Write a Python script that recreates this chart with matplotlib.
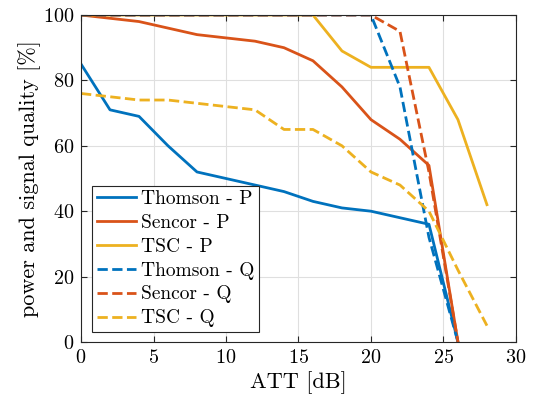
import matplotlib.pyplot as plt

plt.rcParams['font.family'] = ['cmr10', 'DejaVu Serif']
plt.rcParams['mathtext.fontset'] = 'cm'
plt.rcParams['axes.formatter.use_mathtext'] = True

# data
att = [0, 2, 4, 6, 8, 10, 12, 14, 16, 18, 20, 22, 24, 26, 28]

thomson_p = [85, 71, 69, 60, 52, 50, 48, 46, 43, 41, 40, 38, 36, 0]
sencor_p = [100, 99, 98, 96, 94, 93, 92, 90, 86, 78, 68, 62, 54, 0]
tsc_p = [100, 100, 100, 100, 100, 100, 100, 100, 100, 89, 84, 84, 84, 68, 42]
thomson_q = [100, 100, 100, 100, 100, 100, 100, 100, 100, 100, 100, 78, 32, 0]
sencor_q = [100, 100, 100, 100, 100, 100, 100, 100, 100, 100, 100, 95, 52, 0]
tsc_q = [76, 75, 74, 74, 73, 72, 71, 65, 65, 60, 52, 48, 40, 22, 5]

blue = '#0072BD'
red = '#D95319'
yellow = '#EDB120'

fig = plt.figure(figsize=(5.38, 4.08), dpi=100)
ax = fig.add_axes([0.1506, 0.1618, 0.8084, 0.8014])

lw = 2
ax.plot(att[:len(thomson_p)], thomson_p, color=blue, lw=lw, label='Thomson - P')
ax.plot(att[:len(sencor_p)], sencor_p, color=red, lw=lw, label='Sencor - P')
ax.plot(att[:len(tsc_p)], tsc_p, color=yellow, lw=lw, label='TSC - P')
ax.plot(att[:len(thomson_q)], thomson_q, '--', color=blue, lw=lw, label='Thomson - Q')
ax.plot(att[:len(sencor_q)], sencor_q, '--', color=red, lw=lw, label='Sencor - Q')
ax.plot(att[:len(tsc_q)], tsc_q, '--', color=yellow, lw=lw, label='TSC - Q')

ax.set_xlim(0, 30)
ax.set_ylim(0, 100)
ax.set_xticks([0, 5, 10, 15, 20, 25, 30])
ax.set_yticks([0, 20, 40, 60, 80, 100])
ax.grid(True, color='#dfdfdf', lw=0.8)
ax.set_axisbelow(True)
ax.tick_params(direction='in', top=True, right=True, labelsize=14.5,
               color='#262626', length=4, pad=5)
for s in ax.spines.values():
    s.set_color('#262626')
    s.set_linewidth(0.8)

ax.set_xlabel('ATT [dB]', fontsize=16, labelpad=3)
ax.set_ylabel('power and signal quality [%]', fontsize=16, labelpad=1)

leg = ax.legend(loc='lower left', bbox_to_anchor=(0.025, 0.03), fontsize=14,
                fancybox=False, edgecolor='#262626', framealpha=1,
                handlelength=2.0, handletextpad=0.25, labelspacing=0.3,
                borderpad=0.25, borderaxespad=0)
leg.get_frame().set_linewidth(0.8)

fig.savefig('out.png', dpi=100)
